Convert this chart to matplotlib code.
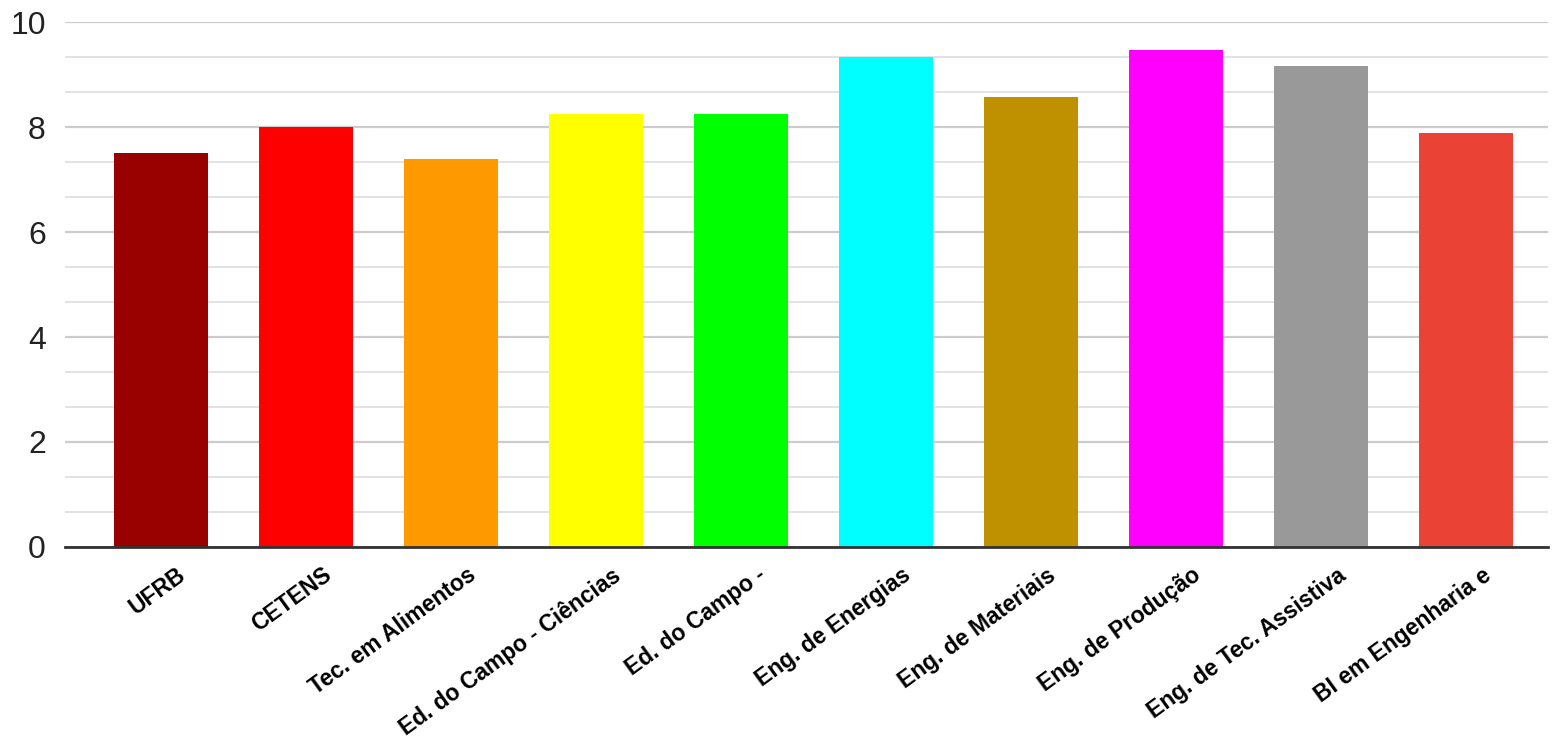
import matplotlib.pyplot as plt
import matplotlib.transforms as mtransforms
import numpy as np

cursos = ['UFRB', 'CETENS', 'Tec. em Alimentos', 'Ed. do Campo - Ciências',
          'Ed. do Campo -', 'Eng. de Energias', 'Eng. de Materiais',
          'Eng. de Produção', 'Eng. de Tec. Assistiva', 'BI em Engenharia e']
notas = [7.51, 8.0, 7.40, 8.26, 8.26, 9.33, 8.58, 9.48, 9.16, 7.89]
cores = ['#990000', '#ff0000', '#ff9900', '#ffff00', '#00ff00',
         '#00ffff', '#bf9000', '#ff00ff', '#999999', '#ea4335']

plt.rcParams['font.family'] = ['Liberation Sans', 'DejaVu Sans']

fig = plt.figure(figsize=(15.53, 7.45), dpi=100)
ax = fig.add_axes([0.042, 0.266, 0.955, 0.704])

x = np.arange(len(cursos))
ax.bar(x, notas, width=0.65, color=cores, zorder=3)

ax.set_ylim(0, 10)
ax.set_xlim(-0.66, 9.57)
ax.set_yticks(np.arange(0, 11, 2))
ax.set_yticks(np.arange(0, 10, 2 / 3), minor=True)
ax.grid(axis='y', which='major', color='#cccccc', linewidth=1.6, zorder=0)
ax.grid(axis='y', which='minor', color='#e2e2e2', linewidth=1.4, zorder=0)
ax.tick_params(axis='y', which='both', length=0, labelsize=23, pad=14, labelcolor='#222222')
ax.tick_params(axis='x', length=0, pad=12)

ax.set_xticks(x)
ax.set_xticklabels(cursos, rotation=36, ha='right', va='top', rotation_mode='anchor',
                   fontsize=16.5, fontweight='bold')

# push labels a bit right so they end just past the bar centre
offset = mtransforms.ScaledTranslation(0.16, 0, fig.dpi_scale_trans)
for lbl in ax.get_xticklabels():
    lbl.set_transform(lbl.get_transform() + offset)

for s in ['top', 'right', 'left']:
    ax.spines[s].set_visible(False)
ax.spines['bottom'].set_color('#333333')
ax.spines['bottom'].set_linewidth(2)
ax.spines['bottom'].set_zorder(4)

fig.savefig('out.png', dpi=100, facecolor='white')
